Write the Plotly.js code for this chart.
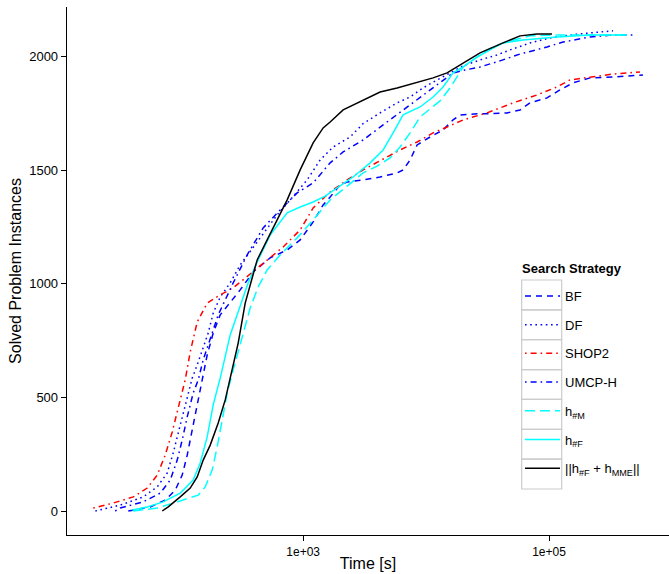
<!DOCTYPE html>
<html>
<head>
<meta charset="utf-8">
<script src="https://cdn.plot.ly/plotly-3.0.1.min.js"></script>
<style>html,body{margin:0;padding:0;background:#fff;}#chart{width:669px;height:574px;}</style>
</head>
<body>
<div id="chart"></div>
<script>
// Data: time in seconds, solved problem instances
const timeBF   = [37.8,57,75.5,91.1,103.8,114,125.2,137.5,151,165.8,185.5,211.5,245.6,307.5,392.2,539.1,741.3,945.4,1206,1454,1658,1999,2279,3075,4227,5809,6501,7412,8451,10780,13750,16580,18900,25980,33130,45550,58100,70050,96320,122800,156700,215400,331300,581000];
const solvedBF = [0,18,48,92,158,246,357,467,577,687,783,863,907,973,1052,1114,1149,1193,1272,1347,1382,1435,1448,1457,1470,1488,1501,1545,1611,1646,1677,1721,1743,1748,1748,1752,1765,1796,1818,1853,1884,1906,1910,1919];

const timeDF   = [20.4,32.5,50,65,78.4,87.7,96.3,105.8,116.1,125.2,137.5,151,168.9,185.5,211.5,255,307.5,447.2,614.6,784,1078,1375,1754,2411,3075,4227,5809,7412,9454,12290,15670,19990,27480,37780,48170,70050,101900,148200,215400,331300];
const solvedDF = [0,26,62,106,167,255,343,431,519,585,643,709,783,871,942,1004,1083,1202,1303,1369,1457,1545,1602,1646,1705,1752,1796,1822,1862,1897,1928,1959,1985,2007,2029,2060,2082,2095,2104,2113];

const timeSHOP2   = [19.6,28.5,41.5,53.9,65,75.5,86.1,96.3,109.8,120.6,137.5,165.8,211.5,269.8,370.7,509.6,687.7,945.4,1206,1658,2279,3075,4227,6145,8451,11400,14820,19990,31320,50960,79880,116100,148200,215400,331300,549300];
const solvedSHOP2 = [13,35,62,101,158,246,348,453,577,700,832,915,951,982,1043,1105,1162,1237,1334,1404,1457,1501,1540,1589,1624,1664,1690,1721,1752,1796,1831,1866,1897,1910,1923,1932];

const timeUMCP   = [29.6,32.5,50,68.8,82.9,94.5,103.8,114,127.5,140.1,153.8,168.9,185.5,203.7,232.3,269.8,350.5,472.9,650.1,893.9,1206,1658,2115,3075,4472,6501,9454,12990,16580,20760,27480,39960,58100,96320,129900,215400,331300,481700];
const solvedUMCP = [0,13,40,79,136,224,312,414,519,577,665,731,805,863,929,1004,1127,1246,1325,1400,1444,1532,1580,1633,1699,1765,1831,1884,1928,1941,1954,1981,2011,2042,2064,2086,2095,2095];

const timeHM   = [41.5,65,94.5,120.6,140.1,159.7,182,199.9,219.6,241.1,269.8,319.2,370.7,430.7,509.6,650.1,893.9,1206,1658,2279,3075,3996,5097,6145,7412,8938,10780,12990,15670,19990,24100,31320,42270,54930,70050,122800,259800,455500];
const solvedHM = [0,13,40,57,70,106,180,282,401,519,621,766,893,986,1061,1127,1202,1281,1369,1430,1488,1518,1554,1602,1664,1734,1769,1805,1862,1954,1985,2029,2060,2077,2091,2095,2095,2095];

const timeHF   = [40.7,53.9,72.7,100,127.5,145.4,165.8,185.5,211.5,232.3,255,307.5,357.1,422.7,539.1,741.3,945.4,1206,1510,1890,2550,3505,4472,5391,6501,8938,11400,13750,16580,19990,25980,33130,42270,61450,116100,215400,430700];
const solvedHF = [4,18,40,79,136,211,326,467,585,678,775,902,1004,1096,1215,1312,1338,1360,1386,1422,1470,1532,1589,1664,1743,1778,1822,1866,1928,1954,1998,2029,2060,2073,2086,2095,2095];

const timeHFMME   = [71.4,79.9,100,120.6,137.5,153.8,175.4,203.7,232.3,264.8,296.2,337.7,384.9,422.7,509.6,614.6,741.3,945.4,1206,1454,1658,2115,3075,4227,5809,8451,11400,14820,19990,27480,42270,58100,79880,105800];
const solvedHFMME = [0,18,62,101,150,224,290,387,489,621,739,915,1030,1105,1193,1281,1369,1501,1620,1686,1712,1765,1809,1844,1862,1888,1906,1928,1972,2016,2060,2091,2099,2099];

const seriesNames = ['BF','DF','SHOP2','UMCP-H','h<sub>#M</sub>','h<sub>#F</sub>','||h<sub>#F</sub> + h<sub>MME</sub>||'];
const legendTitle = 'Search Strategy';
const xTickVals = [1000, 100000];
const xTickText = ['1e+03', '1e+05'];
const yTickVals = [0, 500, 1000, 1500, 2000];

const xs = [timeBF, timeDF, timeSHOP2, timeUMCP, timeHM, timeHF, timeHFMME];
const ys = [solvedBF, solvedDF, solvedSHOP2, solvedUMCP, solvedHM, solvedHF, solvedHFMME];
const colors = ['#0000FF','#0000FF','#FF0000','#0000FF','#00FFFF','#00FFFF','#000000'];
const dashes = ['6px,5px','1.6px,3.6px','1.6px,4px,6px,4px','1.6px,4px,6px,4px','10px,5px','solid','solid'];

const traces = seriesNames.map((n, i) => ({
  type: 'scatter', mode: 'lines', name: n, x: xs[i], y: ys[i],
  legendgroup: 'g' + i,
  line: {color: colors[i], width: 1.5, dash: dashes[i]}
}));

const L = 67, R = 669, T = 7, B = 535;
const px = v => (v - L) / (R - L);
const py = v => (B - v) / (B - T);
const shapes = [];
const boxTop = 280, boxH = 29.86, boxL = 521.7, boxR = 561.7;
for (let i = 0; i < seriesNames.length; i++) {
  shapes.push({type: 'rect', xref: 'paper', yref: 'paper',
    x0: px(boxL), x1: px(boxR), y0: py(boxTop + i * boxH), y1: py(boxTop + (i + 1) * boxH),
    line: {color: '#CCCCCC', width: 1.2}, fillcolor: 'rgba(0,0,0,0)', layer: 'below'});
}

const layout = {
  width: 669, height: 574,
  margin: {l: L, r: 669 - R, t: T, b: 574 - B},
  paper_bgcolor: '#fff', plot_bgcolor: '#fff',
  font: {family: '"Liberation Sans", Arial, Helvetica, sans-serif', color: '#000', size: 13},
  showlegend: true,
  legend: {
    x: px(520), y: py(281), xanchor: 'left', yanchor: 'top',
    bgcolor: 'rgba(0,0,0,0)', borderwidth: 0, itemwidth: 35,
    font: {size: 13}, traceorder: 'grouped', tracegroupgap: 8.8
  },
  annotations: [{
    text: '<b>' + legendTitle + '</b>', xref: 'paper', yref: 'paper',
    x: px(520), y: py(268), xanchor: 'left', yanchor: 'middle',
    showarrow: false, font: {size: 13}
  }],
  xaxis: {
    type: 'log', range: [1.079, 5.976], autorange: false,
    showline: true, linecolor: '#000', linewidth: 1.3, mirror: false,
    showgrid: false, zeroline: false,
    ticks: 'outside', ticklen: 5, tickcolor: '#000', tickwidth: 1,
    tickmode: 'array', tickvals: xTickVals, ticktext: xTickText,
    tickfont: {size: 12},
    title: {text: 'Time [s]', font: {size: 16}, standoff: 0}
  },
  yaxis: {
    range: [-105.6, 2218], autorange: false,
    showline: true, linecolor: '#000', linewidth: 1.3, mirror: false,
    showgrid: false, zeroline: false,
    ticks: 'outside', ticklen: 5, tickcolor: '#000', tickwidth: 1,
    tickmode: 'array', tickvals: yTickVals,
    tickfont: {size: 13},
    title: {text: 'Solved Problem Instances', font: {size: 16}, standoff: 3}
  },
  shapes: shapes,
  hovermode: false
};

Plotly.newPlot('chart', traces, layout, {displayModeBar: false, staticPlot: true});
</script>
</body>
</html>
